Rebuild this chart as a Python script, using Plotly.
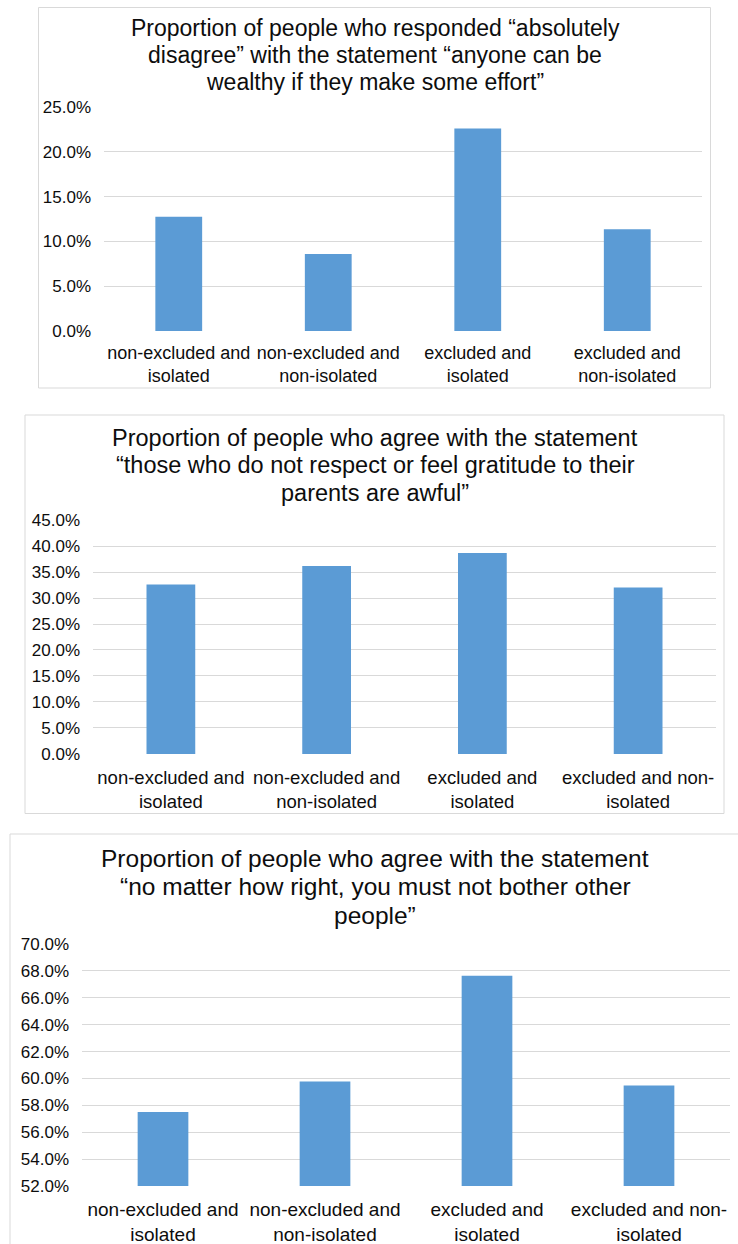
import plotly.graph_objects as go

W, H = 738, 1244

categories_a = ["non-excluded and<br>isolated", "non-excluded and<br>non-isolated",
                "excluded and<br>isolated", "excluded and<br>non-isolated"]
categories_b = ["non-excluded and<br>isolated", "non-excluded and<br>non-isolated",
                "excluded and<br>isolated", "excluded and non-<br>isolated"]

values_disagree_wealthy = [12.75, 8.6, 22.6, 11.35]
values_agree_parents = [32.6, 36.15, 38.65, 32.05]
values_agree_bother = [57.5, 59.77, 67.65, 59.47]

title_1 = ["Proportion of people who responded “absolutely",
           "disagree” with the statement “anyone can be",
           "wealthy if they make some effort”"]
title_2 = ["Proportion of people who agree with the statement",
           "“those who do not respect or feel gratitude to their",
           "parents are awful”"]
title_3 = ["Proportion of people who agree with the statement",
           "“no matter how right, you must not bother other",
           "people”"]

BAR = "#5B9BD5"
GRID = "#D9D9D9"
TXT = "#0d0d0d"
FONT = "Liberation Sans, Arial, sans-serif"


def px(x):
    return x / W


def py(y):
    return 1 - y / H


charts = [
    dict(cats=categories_a, vals=values_disagree_wealthy, title=title_1,
         box=(38.5, 7.5, 710.5, 388), plotx=(104, 702), ploty=(107, 331),
         yrange=(0, 25), dtick=5, title_y=(27, 54, 81), title_fs=23, title_x=375,
         tick_fs=17, xl_fs=18, xl_off=9),
    dict(cats=categories_b, vals=values_agree_parents, title=title_2,
         box=(25, 415, 724, 813.5), plotx=(93, 716), ploty=(520, 754),
         yrange=(0, 45), dtick=5, title_y=(437, 464, 492), title_fs=23.5, title_x=375,
         tick_fs=17, xl_fs=18.5, xl_off=10),
    dict(cats=categories_b, vals=values_agree_bother, title=title_3,
         box=(10, 834, 760, 1260), plotx=(82, 730), ploty=(944, 1186),
         yrange=(52, 70), dtick=2, title_y=(857, 885, 914), title_fs=24.5, title_x=375,
         tick_fs=17, xl_fs=19, xl_off=10),
]

fig = go.Figure()
shapes = []
annotations = []
layout_axes = {}

for i, c in enumerate(charts, start=1):
    sfx = "" if i == 1 else str(i)
    fig.add_trace(go.Bar(x=c["cats"], y=c["vals"], marker=dict(color=BAR, line=dict(width=0)),
                         xaxis="x" + sfx, yaxis="y" + sfx, showlegend=False,
                         hovertemplate="%{y:.1f}%<extra></extra>"))
    x0, y0, x1, y1 = c["box"]
    shapes.append(dict(type="rect", xref="paper", yref="paper",
                       x0=px(x0), x1=px(x1), y0=py(y1), y1=py(y0),
                       line=dict(color=GRID, width=1), fillcolor="rgba(0,0,0,0)", layer="below"))
    lo, hi = c["yrange"]
    eps = (hi - lo) * 0.0005
    layout_axes["xaxis" + sfx] = dict(
        domain=[px(c["plotx"][0]), min(1.0, px(c["plotx"][1]))], anchor="y" + sfx,
        showgrid=False, zeroline=False, showline=False, ticks="", automargin=False,
        tickfont=dict(size=c["xl_fs"], color=TXT, family=FONT),
        ticklabelstandoff=c["xl_off"], fixedrange=True)
    layout_axes["yaxis" + sfx] = dict(
        domain=[py(c["ploty"][1]), py(c["ploty"][0])], anchor="x" + sfx,
        range=[lo - eps, hi + eps], dtick=c["dtick"], tick0=lo,
        tickformat=".1f", ticksuffix="%", automargin=False,
        showgrid=True, gridcolor=GRID, gridwidth=1, zeroline=False, showline=False, ticks="",
        tickfont=dict(size=c["tick_fs"], color=TXT, family=FONT),
        ticklabelstandoff=12, fixedrange=True)
    for line, ty in zip(c["title"], c["title_y"]):
        annotations.append(dict(text=line, xref="paper", yref="paper",
                                x=px(c["title_x"]), y=py(ty + 1), xanchor="center", yanchor="middle",
                                showarrow=False,
                                font=dict(size=c["title_fs"], color=TXT, family=FONT)))

fig.update_layout(
    width=W, height=H, margin=dict(l=0, r=0, t=0, b=0, pad=0, autoexpand=False),
    paper_bgcolor="white", plot_bgcolor="white",
    bargap=0.687, shapes=shapes, annotations=annotations,
    font=dict(family=FONT, color=TXT), **layout_axes)

fig.write_html("out.html", config={"displayModeBar": False},
               post_script="document.body.style.margin='0';document.body.style.overflow='hidden';")
